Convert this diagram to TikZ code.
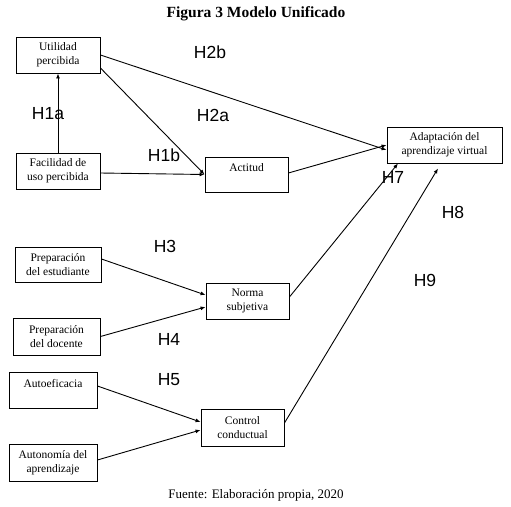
\documentclass[tikz,border=0pt]{standalone}
\usepackage{fontspec}
\setmainfont{Liberation Serif}
\newfontfamily\hfont{Liberation Sans}
\usetikzlibrary{arrows.meta, positioning}

\begin{document}
\begin{tikzpicture}[
	x=1pt, y=-1pt,
	box/.style={draw, line width=0.9pt, align=center, inner sep=0pt, font=\fontsize{11.5}{14}\selectfont, minimum width=#1, minimum height=36pt},
	box/.default=84pt,
	hyp/.style={font=\hfont\fontsize{17.5}{19}\selectfont, inner sep=0pt},
	link/.style={line width=0.9pt, -{Latex[length=5pt,width=4pt]}}
]

\useasboundingbox (0,0) rectangle (511,506);

\node[font=\bfseries\fontsize{15.5}{17}\selectfont] (titulo) at (256,14) {Figura 3 Modelo Unificado};
\node[font=\fontsize{13}{15}\selectfont] (fuente) at (256,495) {Fuente: Elaboraci\'on propia, 2020};

\node[box] (util) at (58,55) {Utilidad\\percibida};
\node[box] (facil) at (58,171) {Facilidad de\\uso percibida};
\node[box=83pt, minimum height=35pt] (actitud) at (246.5,174.5) {Actitud\\\mbox{}};
\node[box=115pt] (adapt) at (444.5,145) {Adaptaci\'on del\\aprendizaje virtual};

\node[box=86pt, minimum height=35pt] (prepest) at (58,264.5) {Preparaci\'on\\del estudiante};
\node[box=87pt, minimum height=37pt] (prepdoc) at (56.5,336.5) {Preparaci\'on\\del docente};
\node[box=83pt] (norma) at (247.5,301) {Norma\\subjetiva};

\node[box=88pt] (autoef) at (53,390) {Autoeficacia\\\mbox{}};
\node[box=88pt, minimum height=37pt] (autonom) at (53,462.5) {Autonom\'ia del\\aprendizaje};
\node[box=83pt, minimum height=37pt] (control) at (242.5,427.5) {Control\\conductual};

\foreach \n/\x/\y in {H1a/48/114, H1b/164/155, H2a/213/115, H2b/210/52, H3/165/246, H4/169/339, H5/169/380, H7/393/177, H8/453/212, H9/425/280} {
	\node[hyp] (lbl\n) at (\x,\y) {\n};
}

\draw[link] (facil.north) -- (util.south);
\draw[link] (util.east) -- ([yshift=-5pt]adapt.west);
\draw[link] ([yshift=-13pt]util.east) -- (actitud.west);
\draw[link] ([yshift=-2pt]facil.east) -- (actitud.west);
\draw[link] ([yshift=1.5pt]actitud.east) -- (adapt.west);

\draw[link] ([yshift=5.5pt]prepest.east) -- ([yshift=6pt]norma.west);
\draw[link] (prepdoc.east) -- ([yshift=-6pt]norma.west);
\draw[link] ([yshift=4pt]norma.east) -- ([xshift=-46.5pt]adapt.south);

\draw[link] ([yshift=4pt]autoef.east) -- ([yshift=5.5pt]control.west);
\draw[link] ([yshift=2.5pt]autonom.east) -- ([yshift=-2.5pt]control.west);
\draw[link] ([yshift=4.5pt]control.east) -- ([xshift=-6.5pt,yshift=-5pt]adapt.south);

\end{tikzpicture}
\end{document}
